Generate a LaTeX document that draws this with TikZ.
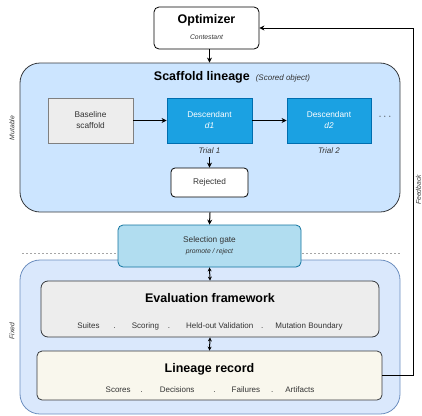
\documentclass[tikz,border=0pt]{standalone}
\usepackage{fontspec}
\setmainfont{Liberation Sans}
\usetikzlibrary{positioning,arrows.meta}

\definecolor{scaffill}{HTML}{CCE5FF}
\definecolor{fixfill}{HTML}{DAE8FC}
\definecolor{fixedge}{HTML}{6C8EBF}
\definecolor{edgedark}{HTML}{36393D}
\definecolor{descfill}{HTML}{1BA1E2}
\definecolor{descedge}{HTML}{006EAF}
\definecolor{gatefill}{HTML}{B1DDF0}
\definecolor{gateedge}{HTML}{10739E}
\definecolor{recfill}{HTML}{F9F7ED}
\definecolor{inkgray}{HTML}{333333}

\newcommand\boxtitle{\fontsize{12.5}{15}\selectfont\bfseries}
\newcommand\smalltxt{\fontsize{8}{10}\selectfont}
\newcommand\tinytxt{\fontsize{6.8}{8}\selectfont\itshape}

\begin{document}
\begin{tikzpicture}[x=1pt,y=-1pt, font=\fontsize{8.3}{11}\selectfont, text=inkgray,
  panel/.style={draw=#1, line width=0.8pt, rounded corners=20pt, inner sep=0pt},
  card/.style={draw=edgedark, line width=0.8pt, rounded corners=5pt, inner sep=0pt},
  arr/.style={-{Stealth[length=5pt,width=5pt]}, line width=1pt, black},
  twoway/.style={{Stealth[length=4pt,width=4pt]}-{Stealth[length=4pt,width=4pt]}, line width=1pt, black},
  title/.style={font=\boxtitle, text=black}]
\useasboundingbox (0,0) rectangle (422,415);

% optimizer on top
\node[card, draw=black, fill=white, minimum width=105pt, minimum height=42pt] (opt) at (206.5,28) {};
\node[title] (optname) at (206.5,20) {Optimizer};
\node[font=\tinytxt] (optrole) at (206.5,37) {Contestant};

% mutable part: the scaffold lineage
\node[panel=edgedark, fill=scaffill, minimum width=380pt, minimum height=149pt] (scaf) at (210,137.5) {};
\node (scafname) at (232,77) {{\boxtitle\color{black}Scaffold lineage}\hspace{6pt}{\smalltxt\itshape (Scored object)}};
\node[card, rounded corners=0pt, draw=gray, fill=black!7, minimum width=85pt, minimum height=45pt, align=center] (base) at (90.5,120.5) {Baseline\\scaffold};
\node[card, rounded corners=0pt, draw=descedge, fill=descfill, text=white, minimum width=85pt, minimum height=45pt, align=center] (d1) at (209.5,120.5) {Descendant\\\textit{d1}};
\node[card, rounded corners=0pt, draw=descedge, fill=descfill, text=white, minimum width=84pt, minimum height=45pt, align=center] (d2) at (329,120.5) {Descendant\\\textit{d2}};
\node[font=\fontsize{11}{12}\selectfont, text=edgedark] (more) at (385,117) {$\cdots$};
\node[font=\smalltxt\itshape, below=1pt of d1] (trial1) {Trial 1};
\node[font=\smalltxt\itshape, below=1pt of d2] (trial2) {Trial 2};
\node[card, draw=black, fill=white, rounded corners=4pt, minimum width=77pt, minimum height=29pt] (rej) at (209.5,182.5) {Rejected};
\draw[arr] (base) -- (d1);
\draw[arr] (d1) -- (d2);
\draw[arr, line width=0.8pt] (trial1) -- (rej);
\draw[arr] (optname.south |- opt.south) ++(3,0) coordinate (optout) -- (optout |- scaf.north);

% boundary between mutable and fixed
\draw[gray!70, dashed, dash pattern=on 2pt off 2pt, line width=0.6pt] (22,253) -- (400,253);
\node[font=\tinytxt, rotate=90] (mutable) at (12,128) {Mutable};
\node[font=\tinytxt, rotate=90] (fixed) at (12,331) {Fixed};

% fixed part
\node[panel=fixedge, fill=fixfill, minimum width=380pt, minimum height=154pt] (fix) at (210,337) {};
\node[card, draw=gateedge, fill=gatefill, minimum width=183pt, minimum height=42pt] (gate) at (209.5,246) {};
\node (gatename) at (209.5,240.5) {Selection gate};
\node[font=\tinytxt] (gaterule) at (209.5,251.5) {promote / reject};
\draw[arr] (scaf.south) -- (gate.north);

\node[card, fill=black!7, rounded corners=7pt, minimum width=338pt, minimum height=56pt] (eval) at (210,309) {};
\node[title] (evalname) at (210,298) {Evaluation framework};
\node[font=\smalltxt] (evalparts) at (210,326) {Suites\hspace{14pt}.\hspace{16pt}Scoring\hspace{9pt}.\hspace{16pt}Held-out Validation\hspace{8pt}.\hspace{12pt}Mutation Boundary};

\node[card, fill=recfill, minimum width=345pt, minimum height=49pt] (rec) at (209.5,375.5) {};
\node[title] (recname) at (209.5,369) {Lineage record};
\node[font=\smalltxt] (recparts) at (210,390) {Scores\hspace{10pt}.\hspace{17pt}Decisions\hspace{19pt}.\hspace{16pt}Failures\hspace{11pt}.\hspace{12pt}Artifacts};

\draw[twoway] (gate.south) -- (eval.north);
\draw[twoway] (eval.south) -- (rec.north);

% feedback loop back to the optimizer
\draw[arr, line width=0.8pt] (rec.east) -- ++(31,0) coordinate (fbturn) |- (opt.east);
\node[font=\tinytxt, rotate=90] (feedback) at (418.5,190) {Feedback};
\end{tikzpicture}
\end{document}
